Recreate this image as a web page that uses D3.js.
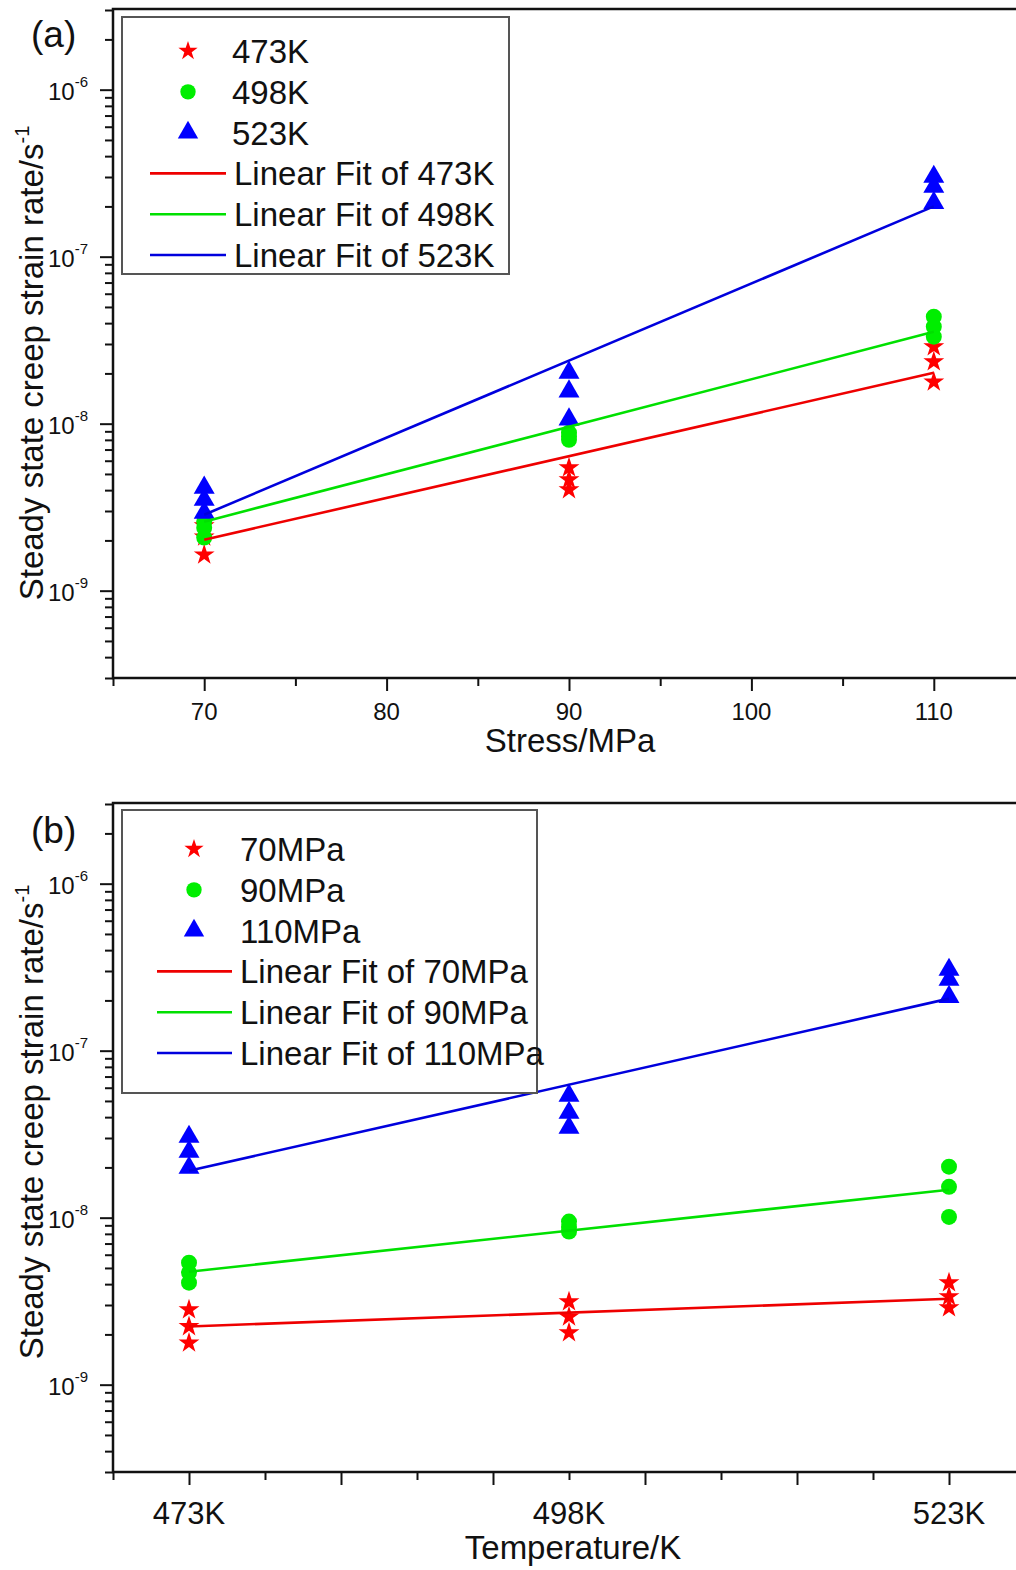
<!DOCTYPE html>
<html>
<head>
<meta charset="utf-8">
<script src="https://cdn.jsdelivr.net/npm/d3@7"></script>
<style>
  body { margin: 0; background: #fff; }
  text { font-family: "Liberation Sans", Arial, sans-serif; fill: #111; }
</style>
</head>
<body>
<div id="chart"></div>
<script>
// Data ------------------------------------------------------------------------
// panel (a): strain rate vs stress, one series per temperature
const stressValues = [70, 90, 110];
const tempNames = ["473K", "498K", "523K"];
const rate473K = [[1.64e-9, 2.1e-9, 2.45e-9], [5.45e-9, 4.62e-9, 4.03e-9], [2.89e-8, 2.35e-8, 1.78e-8]];
const rate498K = [[2.08e-9, 2.38e-9, 2.6e-9], [8.83e-9, 8.0e-9, 8.4e-9], [4.37e-8, 3.81e-8, 3.32e-8]];
const rate523K = [[4.14e-9, 3.5e-9, 2.93e-9], [2.02e-8, 1.56e-8, 1.06e-8], [3.01e-7, 2.62e-7, 2.1e-7]];
const fitStress = [70, 110];
const fit473K = [2.02e-9, 2.02e-8];
const fit498K = [2.59e-9, 3.55e-8];
const fit523K = [2.85e-9, 2.0e-7];
const stressMajorTicks = [70, 80, 90, 100, 110];
const stressMinorTicks = [65, 75, 85, 95, 105];

// panel (b): strain rate vs temperature, one series per stress
const tempValues = [473, 498, 523];
const stressNames = ["70MPa", "90MPa", "110MPa"];
const rate70MPa = [[2.81e-9, 2.23e-9, 1.78e-9], [3.14e-9, 2.55e-9, 2.05e-9], [4.08e-9, 3.37e-9, 2.89e-9]];
const rate90MPa = [[5.38e-9, 4.69e-9, 4.08e-9], [9.48e-9, 8.25e-9, 8.8e-9], [2.02e-8, 1.53e-8, 1.01e-8]];
const rate110MPa = [[3.05e-8, 2.48e-8, 1.99e-8], [5.38e-8, 4.25e-8, 3.46e-8], [3.05e-7, 2.66e-7, 2.1e-7]];
const fitTemp = [473, 523];
const fit70MPa = [2.23e-9, 3.27e-9];
const fit90MPa = [4.75e-9, 1.47e-8];
const fit110MPa = [1.91e-8, 2.05e-7];
const tempMajorTicks = [473, 483, 493, 503, 513, 523];
const tempMinorTicks = [468, 478, 488, 498, 508, 518];
const tempLabelTicks = [473, 498, 523];

const rateDomain = [3e-10, 3e-6];
const rateMajorTicks = [1e-9, 1e-8, 1e-7, 1e-6];
const rateExponents = ["-9", "-8", "-7", "-6"];

// Layout ----------------------------------------------------------------------
const width = 1016;
const height = 1570;
const colors = ["#ff0000", "#00ee00", "#0000ff"];
const lineColors = ["#ee0000", "#00e000", "#0000dd"];
const shapes = [d3.symbolStar, d3.symbolCircle, d3.symbolTriangle];
const shapeSizes = [135, 200, 190];
const legendSizes = [115, 185, 180];

const svg = d3.select("#chart")
  .append("svg")
  .attr("width", width)
  .attr("height", height);

const rateMinorTicks = [];
for (let e = -10; e <= -6; e++) {
  for (let m = 2; m <= 9; m++) {
    const v = m * Math.pow(10, e);
    if (v >= rateDomain[0] && v <= rateDomain[1]) rateMinorTicks.push(v);
  }
}

function drawPanel(p) {
  const x = d3.scaleLinear().domain(p.xDomain).range([113, 1025]);
  const y = d3.scaleLog().domain(rateDomain).range([p.bottom, p.top]);
  const g = svg.append("g");

  // y axis ticks --------------------------------------------------------------
  g.append("g")
    .attr("transform", "translate(113,0)")
    .call(d3.axisLeft(y).tickValues(rateMinorTicks).tickSize(8).tickFormat(""))
    .call(a => a.select(".domain").remove())
    .call(a => a.selectAll("line").attr("stroke", "#111").attr("stroke-width", 2));
  g.append("g")
    .attr("transform", "translate(113,0)")
    .call(d3.axisLeft(y).tickValues(rateMajorTicks).tickSize(13).tickFormat(""))
    .call(a => a.select(".domain").remove())
    .call(a => a.selectAll("line").attr("stroke", "#111").attr("stroke-width", 2));

  rateMajorTicks.forEach((v, i) => {
    const t = g.append("text")
      .attr("x", 88)
      .attr("y", y(v) + 10)
      .attr("text-anchor", "end")
      .style("font-size", "24px");
    t.append("tspan").text("10");
    t.append("tspan").attr("dy", -13).style("font-size", "15px").text(rateExponents[i]);
  });

  // x axis ticks --------------------------------------------------------------
  g.append("g")
    .attr("transform", `translate(0,${p.bottom})`)
    .call(d3.axisBottom(x).tickValues(p.xMinor).tickSize(8).tickFormat(""))
    .call(a => a.select(".domain").remove())
    .call(a => a.selectAll("line").attr("stroke", "#111").attr("stroke-width", 2));
  g.append("g")
    .attr("transform", `translate(0,${p.bottom})`)
    .call(d3.axisBottom(x).tickValues(p.xMajor).tickSize(13).tickFormat(""))
    .call(a => a.select(".domain").remove())
    .call(a => a.selectAll("line").attr("stroke", "#111").attr("stroke-width", 2));

  g.selectAll(".xlabel")
    .data(p.xLabels)
    .enter()
    .append("text")
    .attr("x", d => x(d))
    .attr("y", p.bottom + p.xLabelDy)
    .attr("text-anchor", "middle")
    .style("font-size", p.xLabelSize + "px")
    .text(p.xLabelFormat);

  // frame ---------------------------------------------------------------------
  g.append("rect")
    .attr("x", 113)
    .attr("y", p.top - 1)
    .attr("width", 912)
    .attr("height", p.bottom - p.top + 1)
    .attr("fill", "none")
    .attr("stroke", "#111")
    .attr("stroke-width", 2.5);

  // titles --------------------------------------------------------------------
  g.append("text")
    .attr("x", p.xTitleX)
    .attr("y", p.bottom + p.xTitleDy)
    .attr("text-anchor", "middle")
    .style("font-size", "33px")
    .text(p.xTitle);

  const yt = g.append("text")
    .attr("transform", `translate(43,${p.yTitleY}) rotate(-90)`)
    .attr("text-anchor", "middle")
    .style("font-size", "33px");
  yt.append("tspan").text("Steady state creep strain rate/s");
  yt.append("tspan").attr("dy", -14).style("font-size", "20px").text("-1");

  g.append("text")
    .attr("x", 31)
    .attr("y", p.top + p.tagDy)
    .style("font-size", "37px")
    .text(p.tag);

  // markers -------------------------------------------------------------------
  p.series.forEach((s, i) => {
    const pts = [];
    s.forEach((vals, j) => vals.forEach(v => pts.push([p.xValues[j], v])));
    g.append("g")
      .selectAll("path")
      .data(pts)
      .enter()
      .append("path")
      .attr("transform", d => `translate(${x(d[0])},${y(d[1])})`)
      .attr("d", d3.symbol().type(shapes[i]).size(shapeSizes[i]))
      .attr("fill", colors[i]);
  });

  // fit lines -----------------------------------------------------------------
  const line = d3.line()
    .x(d => x(d[0]))
    .y(d => y(d[1]));
  p.fits.forEach((f, i) => {
    g.append("path")
      .datum(p.fitX.map((xv, k) => [xv, f[k]]))
      .attr("d", line)
      .attr("fill", "none")
      .attr("stroke", lineColors[i])
      .attr("stroke-width", 2.6);
  });

  // legend --------------------------------------------------------------------
  const lg = g.append("g");
  lg.append("rect")
    .attr("x", p.legend.x0)
    .attr("y", p.legend.y0)
    .attr("width", p.legend.x1 - p.legend.x0)
    .attr("height", p.legend.y1 - p.legend.y0)
    .attr("fill", "#fff")
    .attr("stroke", "#555")
    .attr("stroke-width", 2);

  const rowY = i => p.legend.firstRow + i * p.legend.rowGap;
  p.names.forEach((n, i) => {
    lg.append("path")
      .attr("transform", `translate(${p.legend.markerX},${rowY(i)})`)
      .attr("d", d3.symbol().type(shapes[i]).size(legendSizes[i]))
      .attr("fill", colors[i]);
    lg.append("text")
      .attr("x", p.legend.textX)
      .attr("y", rowY(i) + 12)
      .style("font-size", "33px")
      .text(n);
  });
  p.names.forEach((n, i) => {
    const ry = rowY(i + 3);
    lg.append("line")
      .attr("x1", p.legend.lineX0)
      .attr("x2", p.legend.lineX1)
      .attr("y1", ry)
      .attr("y2", ry)
      .attr("stroke", lineColors[i])
      .attr("stroke-width", 2.6);
    lg.append("text")
      .attr("x", p.legend.lineX1 + 8)
      .attr("y", ry + 12)
      .style("font-size", "33px")
      .text("Linear Fit of " + n);
  });
}

// Panel (a) -------------------------------------------------------------------
drawPanel({
  tag: "(a)",
  tagDy: 37,
  top: 10,
  bottom: 678,
  xDomain: [65, 115],
  xMajor: stressMajorTicks,
  xMinor: stressMinorTicks,
  xLabels: stressMajorTicks,
  xLabelFormat: d => d,
  xLabelSize: 24,
  xLabelDy: 42,
  xTitle: "Stress/MPa",
  xTitleX: 570,
  xTitleDy: 74,
  yTitleY: 363,
  xValues: stressValues,
  series: [rate473K, rate498K, rate523K],
  fitX: fitStress,
  fits: [fit473K, fit498K, fit523K],
  names: tempNames,
  legend: { x0: 122, x1: 509, y0: 17, y1: 274, firstRow: 51, rowGap: 40.8,
            markerX: 188, textX: 232, lineX0: 150, lineX1: 226 }
});

// Panel (b) -------------------------------------------------------------------
drawPanel({
  tag: "(b)",
  tagDy: 39,
  top: 804,
  bottom: 1472,
  xDomain: [468, 528],
  xMajor: tempMajorTicks,
  xMinor: tempMinorTicks,
  xLabels: tempLabelTicks,
  xLabelFormat: d => d + "K",
  xLabelSize: 31,
  xLabelDy: 52,
  xTitle: "Temperature/K",
  xTitleX: 573,
  xTitleDy: 87,
  yTitleY: 1122,
  xValues: tempValues,
  series: [rate70MPa, rate90MPa, rate110MPa],
  fitX: fitTemp,
  fits: [fit70MPa, fit90MPa, fit110MPa],
  names: stressNames,
  legend: { x0: 122, x1: 537, y0: 810, y1: 1093, firstRow: 849, rowGap: 40.8,
            markerX: 194, textX: 240, lineX0: 157, lineX1: 232 }
});
</script>
</body>
</html>
